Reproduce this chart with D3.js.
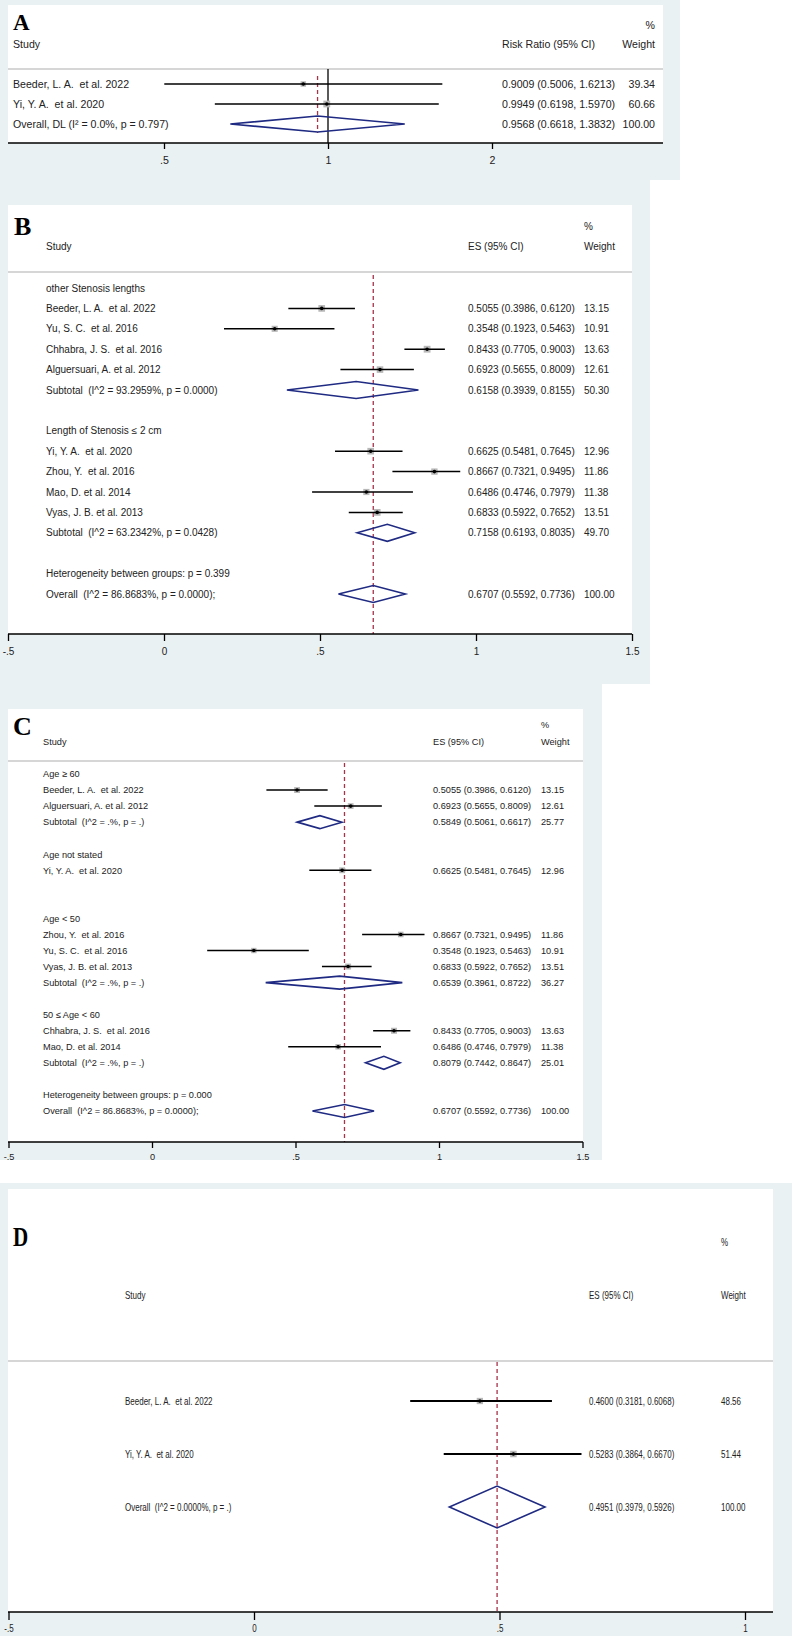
<!DOCTYPE html>
<html><head><meta charset="utf-8">
<script src="https://cdn.jsdelivr.net/npm/d3@7"></script>
<style>
body{margin:0;background:#fff}
svg{display:block}
text{font-family:"Liberation Sans",Arial,sans-serif;fill:#222;white-space:pre}
text.letter{font-family:"Liberation Serif","Times New Roman",serif;font-weight:bold;fill:#000}
</style>
</head><body>
<svg id="chart" width="792" height="1636"></svg>
<script>
// ---------------- Panel A data ----------------
const aLabels = ["Beeder, L. A.  et al. 2022", "Yi, Y. A.  et al. 2020", "Overall, DL (I\u00B2 = 0.0%, p = 0.797)"];
const aKinds  = ["study", "study", "overall"];
const aES     = [0.9009, 0.9949, 0.9568];
const aLo     = [0.5006, 0.6198, 0.6618];
const aHi     = [1.6213, 1.5970, 1.3832];
const aWeight = ["39.34", "60.66", "100.00"];
const aTicks  = [0.5, 1, 2];
const aTickLabels = [".5", "1", "2"];

// ---------------- Panel B data ----------------
const bLabels = ["other Stenosis lengths", "Beeder, L. A.  et al. 2022", "Yu, S. C.  et al. 2016", "Chhabra, J. S.  et al. 2016",
  "Alguersuari, A. et al. 2012", "Subtotal  (I^2 = 93.2959%, p = 0.0000)", "", "Length of Stenosis \u2264 2 cm",
  "Yi, Y. A.  et al. 2020", "Zhou, Y.  et al. 2016", "Mao, D. et al. 2014", "Vyas, J. B. et al. 2013",
  "Subtotal  (I^2 = 63.2342%, p = 0.0428)", "", "Heterogeneity between groups: p = 0.399", "Overall  (I^2 = 86.8683%, p = 0.0000);"];
const bKinds  = ["group","study","study","study","study","sub","blank","group","study","study","study","study","sub","blank","text","overall"];
const bES     = [null,0.5055,0.3548,0.8433,0.6923,0.6158,null,null,0.6625,0.8667,0.6486,0.6833,0.7158,null,null,0.6707];
const bLo     = [null,0.3986,0.1923,0.7705,0.5655,0.3939,null,null,0.5481,0.7321,0.4746,0.5922,0.6193,null,null,0.5592];
const bHi     = [null,0.6120,0.5463,0.9003,0.8009,0.8155,null,null,0.7645,0.9495,0.7979,0.7652,0.8035,null,null,0.7736];
const bWeight = ["","13.15","10.91","13.63","12.61","50.30","","","12.96","11.86","11.38","13.51","49.70","","","100.00"];
const bTicks  = [-0.5, 0, 0.5, 1, 1.5];
const bTickLabels = ["-.5", "0", ".5", "1", "1.5"];

// ---------------- Panel C data ----------------
const cLabels = ["Age \u2265 60", "Beeder, L. A.  et al. 2022", "Alguersuari, A. et al. 2012", "Subtotal  (I^2 = .%, p = .)", "",
  "Age not stated", "Yi, Y. A.  et al. 2020", "", "", "Age < 50", "Zhou, Y.  et al. 2016", "Yu, S. C.  et al. 2016",
  "Vyas, J. B. et al. 2013", "Subtotal  (I^2 = .%, p = .)", "", "50 \u2264 Age < 60", "Chhabra, J. S.  et al. 2016",
  "Mao, D. et al. 2014", "Subtotal  (I^2 = .%, p = .)", "", "Heterogeneity between groups: p = 0.000", "Overall  (I^2 = 86.8683%, p = 0.0000);"];
const cKinds  = ["group","study","study","sub","blank","group","study","blank","blank","group","study","study","study","sub","blank","group","study","study","sub","blank","text","overall"];
const cES     = [null,0.5055,0.6923,0.5849,null,null,0.6625,null,null,null,0.8667,0.3548,0.6833,0.6539,null,null,0.8433,0.6486,0.8079,null,null,0.6707];
const cLo     = [null,0.3986,0.5655,0.5061,null,null,0.5481,null,null,null,0.7321,0.1923,0.5922,0.3961,null,null,0.7705,0.4746,0.7442,null,null,0.5592];
const cHi     = [null,0.6120,0.8009,0.6617,null,null,0.7645,null,null,null,0.9495,0.5463,0.7652,0.8722,null,null,0.9003,0.7979,0.8647,null,null,0.7736];
const cWeight = ["","13.15","12.61","25.77","","","12.96","","","","11.86","10.91","13.51","36.27","","","13.63","11.38","25.01","","","100.00"];
const cTicks  = [-0.5, 0, 0.5, 1, 1.5];
const cTickLabels = ["-.5", "0", ".5", "1", "1.5"];

// ---------------- Panel D data ----------------
const dLabels = ["Beeder, L. A.  et al. 2022", "Yi, Y. A.  et al. 2020", "Overall  (I^2 = 0.0000%, p = .)"];
const dKinds  = ["study", "study", "overall"];
const dES     = [0.4600, 0.5283, 0.4951];
const dLo     = [0.3181, 0.3864, 0.3979];
const dHi     = [0.6068, 0.6670, 0.5926];
const dWeight = ["48.56", "51.44", "100.00"];
const dTicks  = [-0.5, 0, 0.5, 1];
const dTickLabels = ["-.5", "0", ".5", "1"];

// ---------------- styles ----------------
const GRAY_BG = "#eaf1f3";
const DIAMOND = "#1f2a82";
const REDLINE = "#a8324a";
const BOXGRAY = "#b8b8b8";

const svg = d3.select("#chart");

function rowsFrom(labels, kinds, es, lo, hi, wt) {
  return labels.map((l, i) => ({label: l, kind: kinds[i], es: es[i], lo: lo[i], hi: hi[i], w: wt[i]}));
}

function T(g, x, y, s, fs, anchor, sx) {
  return g.append("text")
    .attr("transform", `translate(${x},${y}) scale(${sx || 1},1)`)
    .attr("font-size", fs)
    .attr("text-anchor", anchor || "start")
    .text(s);
}

function panel(cfg, rows) {
  const clipId = "clip" + cfg.id;
  svg.append("clipPath").attr("id", clipId).append("rect")
    .attr("x", cfg.gx0).attr("y", cfg.gy0).attr("width", cfg.gx1 - cfg.gx0).attr("height", cfg.gy1 - cfg.gy0);
  const g = svg.append("g").attr("clip-path", `url(#${clipId})`);
  g.append("rect").attr("x", cfg.gx0).attr("y", cfg.gy0).attr("width", cfg.gx1 - cfg.gx0)
    .attr("height", cfg.gy1 - cfg.gy0).attr("fill", GRAY_BG);
  g.append("rect").attr("x", cfg.px0).attr("y", cfg.py0).attr("width", cfg.px1 - cfg.px0)
    .attr("height", cfg.axisY - cfg.py0).attr("fill", "#fff");

  const x = cfg.log
    ? d3.scaleLog().domain(cfg.xDomain).range(cfg.xRange)
    : d3.scaleLinear().domain(cfg.xDomain).range(cfg.xRange);
  const y = d3.scaleLinear().domain([0, rows.length - 1]).range(cfg.yRange);
  const sx = cfg.sx || 1;
  const fs = cfg.fs;
  const base = fs * 0.36;

  // panel letter
  g.append("text").attr("class", "letter")
    .attr("transform", `translate(${cfg.letterX},${cfg.letterY}) scale(${cfg.letterSx || 1},1)`)
    .attr("font-size", cfg.letterFs)
    .text(cfg.letter);

  // headers
  T(g, cfg.labelX, cfg.headY, "Study", fs, "start", sx);
  T(g, cfg.esX, cfg.headY, cfg.esHead, fs, "start", sx);
  T(g, cfg.wX, cfg.pctY, "%", fs, cfg.wAnchor, sx);
  T(g, cfg.wX, cfg.headY, "Weight", fs, cfg.wAnchor, sx);

  // header separator line
  g.append("line").attr("x1", cfg.px0).attr("x2", cfg.px1).attr("y1", cfg.lineY).attr("y2", cfg.lineY)
    .attr("stroke", "#c8c8c8").attr("stroke-width", 1.5);

  // null line
  if (cfg.nullLine != null) {
    g.append("line").attr("x1", x(cfg.nullLine)).attr("x2", x(cfg.nullLine))
      .attr("y1", cfg.lineY).attr("y2", cfg.axisY).attr("stroke", "#000").attr("stroke-width", 1.3);
  }

  // overall effect dashed line
  const overall = rows.find(r => r.kind === "overall");
  g.append("line").attr("x1", x(overall.es)).attr("x2", x(overall.es))
    .attr("y1", cfg.dashY0).attr("y2", cfg.dashY1)
    .attr("stroke", REDLINE).attr("stroke-width", 1.3).attr("stroke-dasharray", "4,3");

  const maxW = d3.max(rows.filter(r => r.kind === "study"), r => +r.w);

  rows.forEach((r, i) => {
    const yy = y(i);
    if (r.label) T(g, cfg.labelX, yy + base, r.label, fs, "start", sx);
    if (r.kind === "study") {
      const s = cfg.box * Math.sqrt(+r.w / maxW);
      g.append("rect").attr("x", x(r.es) - s / 2).attr("y", yy - s / 2).attr("width", s).attr("height", s)
        .attr("fill", BOXGRAY);
      g.append("line").attr("x1", x(r.lo)).attr("x2", x(r.hi)).attr("y1", yy).attr("y2", yy)
        .attr("stroke", "#000").attr("stroke-width", cfg.ciW);
      g.append("circle").attr("cx", x(r.es)).attr("cy", yy).attr("r", 1.8).attr("fill", "#000");
    } else if (r.kind === "sub" || r.kind === "overall") {
      const h = cfg.dh;
      const pts = [[x(r.lo), yy], [x(r.es), yy - h], [x(r.hi), yy], [x(r.es), yy + h]];
      g.append("polygon").attr("points", pts.map(p => p.join(",")).join(" "))
        .attr("fill", "none").attr("stroke", DIAMOND).attr("stroke-width", 1.6);
    }
    if (r.es != null) {
      const f = d3.format(".4f");
      T(g, cfg.esX, yy + base, `${f(r.es)} (${f(r.lo)}, ${f(r.hi)})`, fs, "start", sx);
      T(g, cfg.wX, yy + base, r.w, fs, cfg.wAnchor, sx);
    }
  });

  // x axis
  g.append("line").attr("x1", cfg.px0).attr("x2", cfg.px1).attr("y1", cfg.axisY).attr("y2", cfg.axisY)
    .attr("stroke", "#000").attr("stroke-width", 1.3);
  const ax = d3.axisBottom(x).tickValues(cfg.ticks).tickFormat((d, i) => cfg.tickLabels[i])
    .tickSize(cfg.tickLen).tickPadding(cfg.tickPad);
  const axg = g.append("g").attr("transform", `translate(0,${cfg.axisY})`).call(ax)
    .attr("font-size", fs);
  axg.select(".domain").remove();
  axg.selectAll(".tick line").attr("stroke", "#000").attr("stroke-width", 1.3);
  axg.selectAll(".tick text").attr("fill", "#222").attr("transform", `scale(${sx},1)`);
}

panel({
  id: "A", letter: "A", letterX: 13, letterY: 29.5, letterFs: 23,
  gx0: 0, gy0: 0, gx1: 680, gy1: 180, px0: 8, py0: 5, px1: 663, axisY: 143,
  log: true, xDomain: [0.5, 2], xRange: [164, 492], yRange: [84, 124],
  fs: 10.6, labelX: 13, esX: 502, wX: 655, wAnchor: "end", esHead: "Risk Ratio (95% CI)",
  headY: 48, pctY: 29, lineY: 69, nullLine: 1, dashY0: 76, dashY1: 133,
  box: 6.8, ciW: 1.5, dh: 8, ticks: aTicks, tickLabels: aTickLabels, tickLen: 6, tickPad: 7
}, rowsFrom(aLabels, aKinds, aES, aLo, aHi, aWeight));

panel({
  id: "B", letter: "B", letterX: 14, letterY: 235, letterFs: 26,
  gx0: 0, gy0: 180, gx1: 650, gy1: 684, px0: 8, py0: 205, px1: 632, axisY: 634,
  log: false, xDomain: [-0.5, 1.5], xRange: [8, 632], yRange: [288, 594],
  fs: 10, labelX: 46, esX: 468, wX: 584, wAnchor: "start", esHead: "ES (95% CI)",
  headY: 250, pctY: 230, lineY: 272, nullLine: null, dashY0: 275, dashY1: 634,
  box: 6.8, ciW: 1.5, dh: 8.5, ticks: bTicks, tickLabels: bTickLabels, tickLen: 7, tickPad: 7
}, rowsFrom(bLabels, bKinds, bES, bLo, bHi, bWeight));

panel({
  id: "C", letter: "C", letterX: 13, letterY: 735, letterFs: 26,
  gx0: 0, gy0: 684, gx1: 602, gy1: 1160, px0: 8, py0: 709, px1: 583, axisY: 1142,
  log: false, xDomain: [-0.5, 1.5], xRange: [8.5, 582.5], yRange: [774, 1111],
  fs: 9.2, labelX: 43, esX: 433, wX: 541, wAnchor: "start", esHead: "ES (95% CI)",
  headY: 745, pctY: 728, lineY: 761, nullLine: null, dashY0: 763, dashY1: 1142,
  box: 6, ciW: 1.5, dh: 6.5, ticks: cTicks, tickLabels: cTickLabels, tickLen: 6, tickPad: 5
}, rowsFrom(cLabels, cKinds, cES, cLo, cHi, cWeight));

panel({
  id: "D", letter: "D", letterX: 13, letterY: 1246, letterFs: 27, letterSx: 0.78, sx: 0.8,
  gx0: 0, gy0: 1183, gx1: 792, gy1: 1636, px0: 8, py0: 1189, px1: 773, axisY: 1612,
  log: false, xDomain: [-0.5, 1], xRange: [8.5, 745], yRange: [1401, 1507],
  fs: 10, labelX: 125, esX: 589, wX: 721, wAnchor: "start", esHead: "ES (95% CI)",
  headY: 1299, pctY: 1246, lineY: 1361, nullLine: null, dashY0: 1362, dashY1: 1612,
  box: 6.5, ciW: 2, dh: 21, ticks: dTicks, tickLabels: dTickLabels, tickLen: 8, tickPad: 5
}, rowsFrom(dLabels, dKinds, dES, dLo, dHi, dWeight));
</script>
</body></html>
